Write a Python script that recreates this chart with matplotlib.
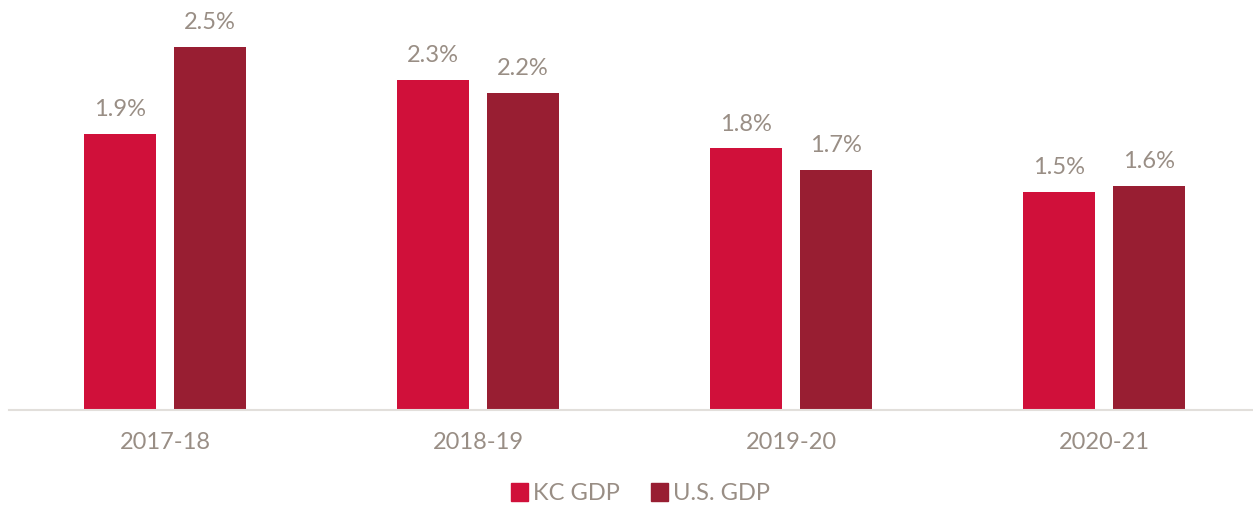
import matplotlib
matplotlib.use("Agg")
import matplotlib.pyplot as plt
from matplotlib.patches import Patch
import numpy as np

categories = ["2017-18", "2018-19", "2019-20", "2020-21"]
kc_gdp = [1.90, 2.27, 1.80, 1.50]
us_gdp = [2.50, 2.18, 1.65, 1.54]
kc_labels = ["1.9%", "2.3%", "1.8%", "1.5%"]
us_labels = ["2.5%", "2.2%", "1.7%", "1.6%"]
series_names = ["KC GDP", "U.S. GDP"]

kc_color = "#D0103A"
us_color = "#981E32"
text_color = "#998E85"

plt.rcParams['font.family'] = ['Lato', 'DejaVu Sans']
FS = 17

fig = plt.figure(figsize=(12.53, 5.08), dpi=100)
ax = fig.add_axes([8.5/1253, 98/508, 1 - 8.5/1253, 410/508])

x = np.arange(len(categories))
w = 0.227
off = 45/313
b1 = ax.bar(x - off, kc_gdp, w, color=kc_color)
b2 = ax.bar(x + off, us_gdp, w, color=us_color)

for bars, labels in ((b1, kc_labels), (b2, us_labels)):
    for r, lab in zip(bars, labels):
        ax.annotate(lab, (r.get_x() + r.get_width()/2, r.get_height()),
                    xytext=(0, 10), textcoords="offset points",
                    ha="center", va="bottom", fontsize=FS,
                    color=text_color)

ax.set_xlim(-0.5, 3.5 - 7.5/313)
ax.set_ylim(0, 2.822)
ax.set_xticks(x)
ax.set_xticklabels(categories, fontsize=FS, color=text_color)
ax.tick_params(axis="x", length=0, pad=15.5)
ax.set_yticks([])
for s in ("top", "right", "left"):
    ax.spines[s].set_visible(False)
ax.spines["bottom"].set_color("#E2DFDB")
ax.spines["bottom"].set_linewidth(1.5)

handles = [Patch(color=kc_color), Patch(color=us_color)]
leg = fig.legend(handles, series_names, loc="center", bbox_to_anchor=(0.511, 0.028),
                 ncol=2, frameon=False, fontsize=FS, handlelength=0.75,
                 handleheight=0.75, handletextpad=0.2, columnspacing=1.3)
for t in leg.get_texts():
    t.set_color(text_color)

fig.savefig("out.png", dpi=100)
